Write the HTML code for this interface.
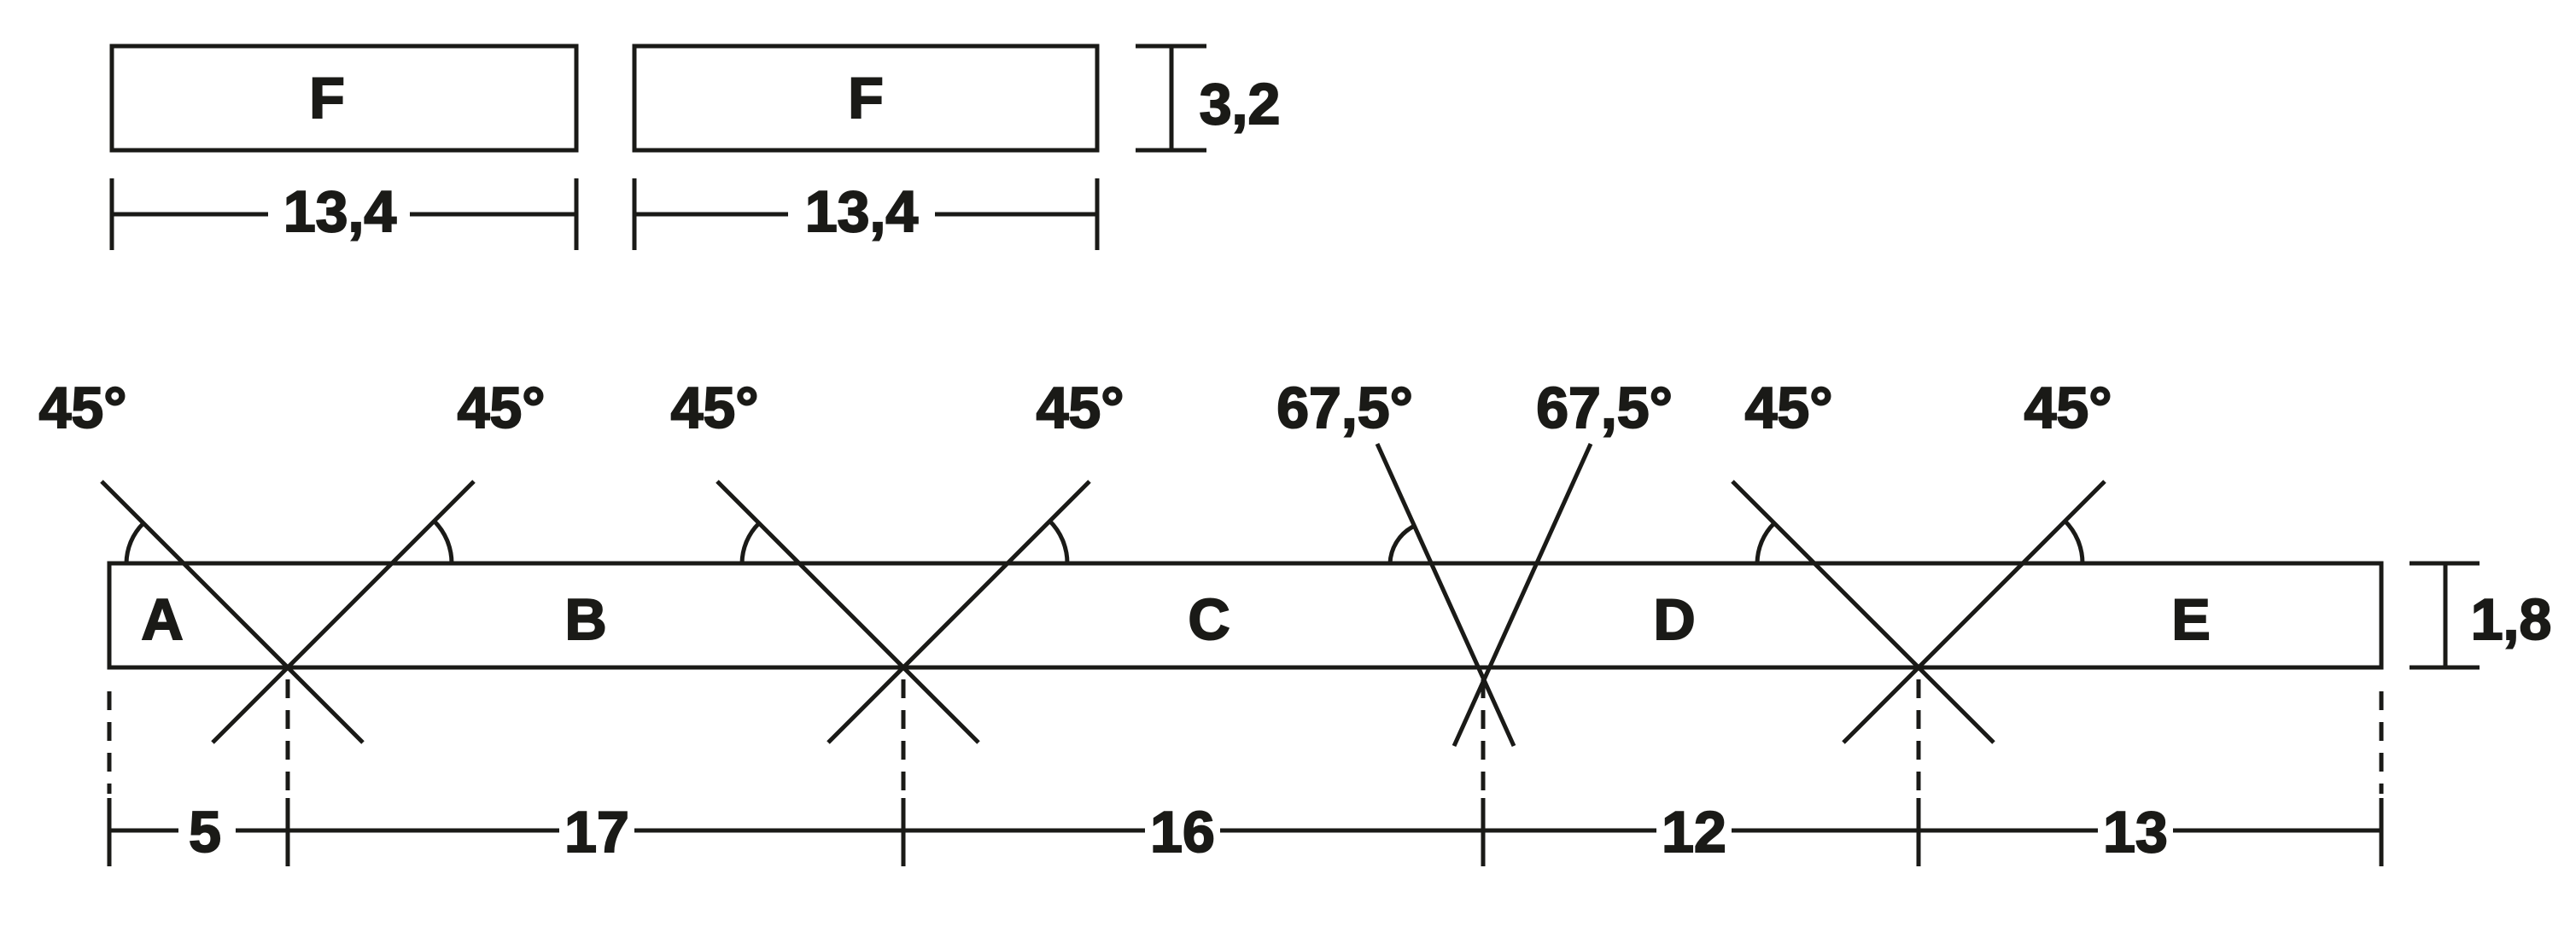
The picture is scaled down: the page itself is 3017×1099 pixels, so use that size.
<!DOCTYPE html>
<html><head><meta charset="utf-8"><style>
html,body{margin:0;padding:0;background:#fff}
svg text{font-family:"Liberation Sans Narrow","Liberation Sans",sans-serif;font-weight:bold;fill:#1a1a17;stroke:#1a1a17;stroke-width:2;text-anchor:middle;dominant-baseline:central}
</style></head><body>
<svg width="3017" height="1094" viewBox="0 0 3017 1094" xmlns="http://www.w3.org/2000/svg">
<g stroke="#1a1a17" stroke-width="5" fill="none">
<rect x="131" y="54" width="544" height="122"/>
<rect x="743" y="54" width="542" height="122"/>
<line x1="1372" y1="54" x2="1372" y2="176"/>
<line x1="1330" y1="54" x2="1413" y2="54"/>
<line x1="1330" y1="176" x2="1413" y2="176"/>
<line x1="131" y1="209" x2="131" y2="293"/><line x1="675" y1="209" x2="675" y2="293"/>
<line x1="131" y1="251" x2="314" y2="251"/><line x1="480" y1="251" x2="675" y2="251"/>
<line x1="743" y1="209" x2="743" y2="293"/><line x1="1285" y1="209" x2="1285" y2="293"/>
<line x1="743" y1="251" x2="923" y2="251"/><line x1="1095" y1="251" x2="1285" y2="251"/>
<rect x="128" y="660" width="2661" height="122"/>
<line x1="2864" y1="660" x2="2864" y2="782"/>
<line x1="2822" y1="660" x2="2904" y2="660"/><line x1="2822" y1="782" x2="2904" y2="782"/>
<line x1="119" y1="564" x2="425" y2="870"/><line x1="555" y1="564" x2="249" y2="870"/>
<path d="M148 660 A67 67 0 0 1 168 613"/><path d="M529 660 A70 70 0 0 0 508 610"/>
<line x1="840" y1="564" x2="1146" y2="870"/><line x1="1276" y1="564" x2="970" y2="870"/>
<path d="M869 660 A67 67 0 0 1 889 613"/><path d="M1250 660 A70 70 0 0 0 1229 610"/>
<line x1="1613" y1="520" x2="1773" y2="874"/><line x1="1863" y1="520" x2="1703" y2="874"/>
<path d="M1628 660 A51 51 0 0 1 1655 617"/>
<line x1="2029" y1="564" x2="2335" y2="870"/><line x1="2465" y1="564" x2="2159" y2="870"/>
<path d="M2058 660 A67 67 0 0 1 2078 613"/><path d="M2439 660 A70 70 0 0 0 2418 610"/>
<g stroke-dasharray="22,14">
<line x1="128" y1="810" x2="128" y2="930"/><line x1="337" y1="796" x2="337" y2="930"/>
<line x1="1058" y1="796" x2="1058" y2="930"/><line x1="1737" y1="796" x2="1737" y2="930"/>
<line x1="2247" y1="796" x2="2247" y2="930"/><line x1="2789" y1="810" x2="2789" y2="930"/>
</g>
<line x1="128" y1="935" x2="128" y2="1015"/><line x1="337" y1="935" x2="337" y2="1015"/>
<line x1="1058" y1="935" x2="1058" y2="1015"/><line x1="1737" y1="935" x2="1737" y2="1015"/>
<line x1="2247" y1="935" x2="2247" y2="1015"/><line x1="2789" y1="935" x2="2789" y2="1015"/>
<line x1="128" y1="973" x2="2789" y2="973"/>
</g>
<g fill="#fff">
<rect x="209" y="940" width="67" height="66"/>
<rect x="655" y="940" width="88" height="66"/>
<rect x="1341" y="940" width="88" height="66"/>
<rect x="1940" y="940" width="88" height="66"/>
<rect x="2457" y="940" width="88" height="66"/>
</g>
<g font-size="68">
<text x="383" y="115">F</text><text x="1014" y="115">F</text>
<text x="1452" y="122">3,2</text>
<text x="398" y="248">13,4</text><text x="1009" y="248">13,4</text>
<text x="97" y="478">45°</text><text x="587" y="478">45°</text>
<text x="837" y="478">45°</text><text x="1265" y="478">45°</text>
<text x="1575" y="478">67,5°</text><text x="1879" y="478">67,5°</text>
<text x="2095" y="478">45°</text><text x="2422" y="478">45°</text>
<text x="190" y="726">A</text><text x="686" y="726">B</text><text x="1416" y="726">C</text>
<text x="1961" y="726">D</text><text x="2566" y="726">E</text>
<text x="2941" y="726">1,8</text>
<text x="240" y="975">5</text><text x="699" y="975">17</text><text x="1385" y="975">16</text>
<text x="1984" y="975">12</text><text x="2501" y="975">13</text>
</g>
</svg>
</body></html>
